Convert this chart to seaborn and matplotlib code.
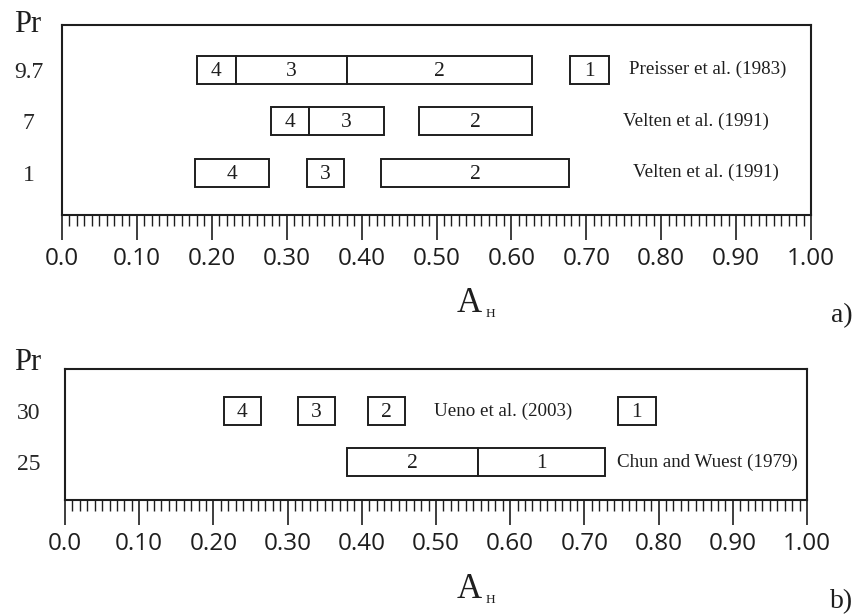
import matplotlib
matplotlib.use("Agg")
import matplotlib.pyplot as plt
from matplotlib.ticker import MultipleLocator
import seaborn as sns
import pandas as pd

# ---- panel a: Pr = 9.7, 7, 1 ----
a_pr = ["9.7", "7", "1"]
a_source = ["Preisser et al. (1983)", "Velten et al. (1991)", "Velten et al. (1991)"]
a_source_x = [0.757, 0.749, 0.763]
a_row = ["9.7", "9.7", "9.7", "9.7", "7", "7", "7", "1", "1", "1"]
a_start = [0.180, 0.232, 0.381, 0.678, 0.279, 0.330, 0.477, 0.177, 0.327, 0.426]
a_end = [0.232, 0.381, 0.628, 0.730, 0.330, 0.430, 0.628, 0.277, 0.376, 0.677]
a_regime = ["4", "3", "2", "1", "4", "3", "2", "4", "3", "2"]

# ---- panel b: Pr = 30, 25 ----
b_pr = ["30", "25"]
b_source = ["Ueno et al. (2003)", "Chun and Wuest (1979)"]
b_source_x = [0.497, 0.744]
b_row = ["30", "30", "30", "30", "25", "25"]
b_start = [0.214, 0.314, 0.408, 0.745, 0.380, 0.557]
b_end = [0.264, 0.364, 0.458, 0.796, 0.557, 0.728]
b_regime = ["4", "3", "2", "1", "2", "1"]

x_ticks = [0.0, 0.1, 0.2, 0.3, 0.4, 0.5, 0.6, 0.7, 0.8, 0.9, 1.0]
x_tick_labels = ["0.0", "0.10", "0.20", "0.30", "0.40", "0.50",
                 "0.60", "0.70", "0.80", "0.90", "1.00"]

sns.set_theme(style="ticks")
plt.rcParams["font.family"] = ["Liberation Serif", "DejaVu Serif"]
INK = "#1e1e1e"
plt.rcParams.update({
    "axes.edgecolor": INK,
    "axes.linewidth": 1.5,
    "xtick.color": INK,
    "text.color": INK,
    "axes.facecolor": "white",
})

W, H = 855, 615
fig = plt.figure(figsize=(W / 100, H / 100), dpi=100)


def px_rect(x0, y0, x1, y1):
    return [x0 / W, 1 - y1 / H, (x1 - x0) / W, (y1 - y0) / H]


def draw_panel(ax, pr_levels, rows, starts, ends, regimes, sources, source_x,
               ylim, tick_pad):
    n = len(pr_levels)
    ypos = {p: n - 1 - i for i, p in enumerate(pr_levels)}
    df = pd.DataFrame({"pr": rows, "start": starts, "end": ends, "regime": regimes})
    df["y"] = df["pr"].map(ypos)
    df["width"] = df["end"] - df["start"]

    ax.barh(df["y"], df["width"], left=df["start"], height=0.54,
            facecolor="white", edgecolor=INK, linewidth=1.4, zorder=3)
    for _, r in df.iterrows():
        ax.text((r["start"] + r["end"]) / 2, r["y"] - 0.03, r["regime"],
                ha="center", va="center", fontsize=15.5, zorder=4)
    for p, src, sx in zip(pr_levels, sources, source_x):
        ax.text(sx, ypos[p], src, ha="left", va="center", fontsize=13.7)

    ax.set_xlim(0, 1)
    ax.set_ylim(*ylim)
    ax.set_yticks([ypos[p] for p in pr_levels])
    ax.set_yticklabels(pr_levels, fontsize=17, ha="center")
    ax.tick_params(axis="y", length=0, pad=tick_pad)
    ax.set_xticks(x_ticks)
    ax.set_xticklabels(x_tick_labels, family="Open Sans", fontsize=17.5)
    ax.xaxis.set_minor_locator(MultipleLocator(0.01))
    ax.tick_params(axis="x", which="major", direction="out", length=18,
                   width=1.2, pad=5)
    ax.tick_params(axis="x", which="minor", direction="out", length=8,
                   width=1.0)
    for s in ax.spines.values():
        s.set_visible(True)
    ax.grid(False)


ax_a = fig.add_axes(px_rect(62, 25, 811, 215))
draw_panel(ax_a, a_pr, a_row, a_start, a_end, a_regime, a_source, a_source_x,
           (-0.82, 2.87), 24)

ax_b = fig.add_axes(px_rect(65, 369, 807, 500))
draw_panel(ax_b, b_pr, b_row, b_start, b_end, b_regime, b_source, b_source_x,
           (-0.745, 1.82), 26)


def ftext(x, y, s, **kw):
    fig.text(x / W, 1 - y / H, s, **kw)


# axis titles and panel letters
ftext(14, 32, "Pr", fontsize=22, ha="left", va="baseline")
ftext(14, 370, "Pr", fontsize=22, ha="left", va="baseline")
ftext(457, 312, "A", fontsize=25, ha="left", va="baseline")
ftext(486, 317, "H", fontsize=9.5, ha="left", va="baseline")
ftext(457, 598, "A", fontsize=25, ha="left", va="baseline")
ftext(486, 603, "H", fontsize=9.5, ha="left", va="baseline")
ftext(853, 316, "a)", fontsize=20, ha="right", va="center")
ftext(853, 602, "b)", fontsize=20, ha="right", va="center")

fig.savefig("out.png", dpi=100, facecolor="white")
